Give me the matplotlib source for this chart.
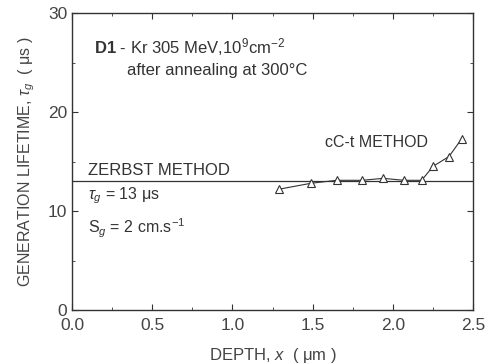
import matplotlib
matplotlib.use("Agg")
import matplotlib.pyplot as plt
import numpy as np

plt.rcParams['font.family'] = ['Liberation Sans', 'DejaVu Sans']
plt.rcParams['mathtext.fontset'] = 'custom'
plt.rcParams['mathtext.rm'] = 'Liberation Sans'
plt.rcParams['mathtext.it'] = 'Liberation Sans:italic'
plt.rcParams['mathtext.bf'] = 'Liberation Sans:bold'

depth = [1.29, 1.49, 1.65, 1.81, 1.94, 2.07, 2.18, 2.25, 2.35, 2.43]
lifetime = [12.2, 12.8, 13.1, 13.1, 13.3, 13.1, 13.1, 14.5, 15.5, 17.3]
zerbst_tau = 13.0

fig = plt.figure(figsize=(4.87, 3.64), dpi=100)
ax = fig.add_axes([72/487, 54/364, 401/487, 297/364])

col = '#333333'
ax.axhline(zerbst_tau, color=col, lw=0.9)
ax.plot(depth, lifetime, color=col, lw=0.8, marker='^', ms=6,
        mfc='white', mec=col, mew=0.8)

ax.set_xlim(0, 2.5)
ax.set_ylim(0, 30)
ax.set_xticks([0, 0.5, 1.0, 1.5, 2.0, 2.5])
ax.set_xticklabels(['0.0', '0.5', '1.0', '1.5', '2.0', '2.5'])
ax.set_yticks([0, 10, 20, 30])
ax.set_xticks(np.arange(0.25, 2.5, 0.5), minor=True)
ax.set_yticks([5, 15, 25], minor=True)
ax.tick_params(which='both', direction='in', top=True, right=True,
               labelsize=12.5, colors=col, labelcolor='#444444')
ax.tick_params(axis='x', pad=6)
ax.tick_params(which='major', length=4)
ax.tick_params(which='minor', length=2.5)
for s in ax.spines.values():
    s.set_color(col)
    s.set_linewidth(1.0)

ax.set_xlabel('DEPTH, $x$  ( μm )', fontsize=12, color='#444444', labelpad=9)
ax.set_ylabel('GENERATION LIFETIME, $\\tau_g$  ( μs )', fontsize=11.5,
              color='#444444', labelpad=8)

tc = '#333333'
ax.text(0.14, 26.6, r'$\mathbf{D1}$ - Kr 305 MeV,10$^{9}$cm$^{-2}$', fontsize=12,
        color=tc, va='center')
ax.text(0.34, 24.2, 'after annealing at 300°C', fontsize=12, color=tc, va='center')
ax.text(1.58, 16.9, 'cC-t METHOD', fontsize=11.5, color=tc, va='center')
ax.text(0.1, 14.1, 'ZERBST METHOD', fontsize=12, color=tc, va='center')
ax.text(0.1, 11.5, '$\\tau_g$ = 13 μs', fontsize=11.5, color=tc, va='center')
ax.text(0.1, 8.2, 'S$_g$ = 2 cm.s$^{-1}$', fontsize=11.5, color=tc, va='center')

fig.savefig('out.png', dpi=100)
